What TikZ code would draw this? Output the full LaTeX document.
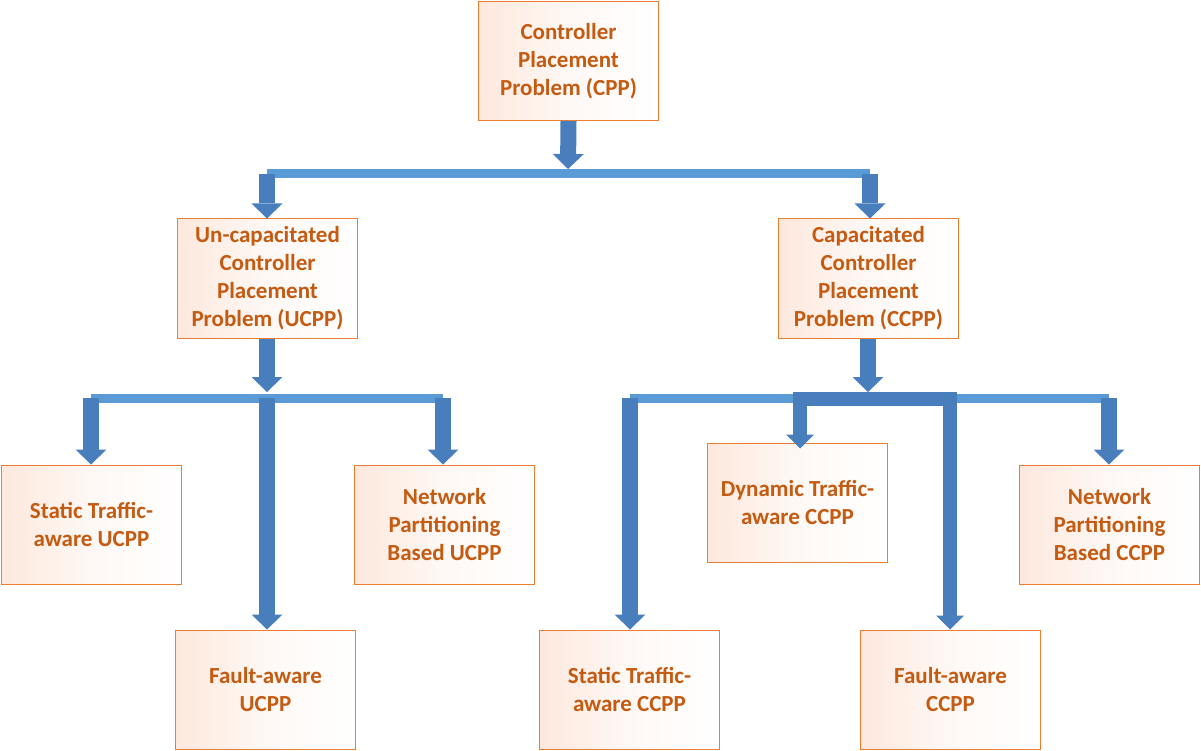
\documentclass[tikz,border=0pt]{standalone}
\usepackage{fontspec}
\setmainfont{Carlito}
\usetikzlibrary{arrows.meta}
\definecolor{txt}{RGB}{197,90,17}
\definecolor{bord}{RGB}{237,125,49}
\definecolor{fillc}{RGB}{253,232,221}
\definecolor{arrb}{RGB}{72,126,187}
\definecolor{barb}{RGB}{91,155,213}
\tikzset{
 box/.style={draw=bord, line width=1pt, left color=fillc, right color=white, middle color=fillc!30,
   minimum width=180pt, minimum height=119pt, inner sep=0pt, align=center, text=txt,
   font=\fontsize{23}{28}\selectfont\bfseries},
 blk/.style={draw=arrb, line width=16pt, line cap=butt, line join=miter,
   -{Triangle[width=31pt,length=15pt,line width=0pt]}},
 elb/.style={draw=arrb, line width=14pt, line cap=butt, line join=miter,
   -{Triangle[width=28pt,length=14pt,line width=0pt]}},
 hbar/.style={draw=barb, line width=9pt, line cap=butt},
}
\begin{document}
\begin{tikzpicture}[x=1pt,y=-1pt]
\fill[white] (0,0) rectangle (1201,751);
\useasboundingbox (0,0) rectangle (1201,751);

% boxes
\node[box] (cpp) at (568.5,61) {Controller\\Placement\\Problem (CPP)};
\node[box] (ucpp) at (267.5,278.5) {Un-capacitated\\Controller\\Placement\\Problem (UCPP)};
\node[box] (ccpp) at (868.5,278.5) {Capacitated\\Controller\\Placement\\Problem (CCPP)};
\node[box] (sucpp) at (91.5,524.5) {Static Traffic-\\aware UCPP};
\node[box] (nucpp) at (444.5,524.5) {Network\\Partitioning\\Based UCPP};
\node[box] (fucpp) at (265.5,689.5) {Fault-aware\\UCPP};
\node[box] (dccpp) at (797.5,502.5) {Dynamic Traffic-\\aware CCPP};
\node[box] (nccpp) at (1109.5,524.5) {Network\\Partitioning\\Based CCPP};
\node[box] (sccpp) at (629.5,689.5) {Static Traffic-\\aware CCPP};
\node[box] (fccpp) at (950.5,689.5) {Fault-aware\\CCPP};

% junction coordinates
\coordinate (j0) at (568,169);
\coordinate (tl) at (267,174);
\coordinate (tr) at (870,174);
\coordinate (j1) at (267,392);
\coordinate (ul) at (91,398);
\coordinate (um) at (267,398);
\coordinate (ur) at (443,398);
\coordinate (j2) at (868,392);
\coordinate (cl) at (630,398);
\coordinate (cr) at (1109,398);
\coordinate (ce1) at (800,399);
\coordinate (ce2) at (950,399);

% bars
\draw[hbar] (tl) -- (tr);
\draw[hbar] (ul) -- (ur);
\draw[hbar] (cl) -- (cr);

% arrows
\draw[blk] (cpp.south) -- (j0);
\draw[blk] (tl) -- (tl |- ucpp.north);
\draw[blk] (tr) -- (tr |- ccpp.north);
\draw[blk] (j1 |- ucpp.south) -- (j1);
\draw[blk] (ul) -- (ul |- sucpp.north);
\draw[blk] (um) -- (um |- fucpp.north);
\draw[blk] (ur) -- (ur |- nucpp.north);
\draw[blk] (j2 |- ccpp.south) -- (j2);
\draw[blk] (cl) -- (cl |- sccpp.north);
\draw[blk] (cr) -- (cr |- nccpp.north);
\draw[elb] ([xshift=7pt]ce2) -- (ce1) -- ([yshift=-6pt]ce1 |- dccpp.north);
\draw[elb] ([xshift=-7pt]ce1) -- (ce2) -- (ce2 |- fccpp.north);
\end{tikzpicture}
\end{document}
